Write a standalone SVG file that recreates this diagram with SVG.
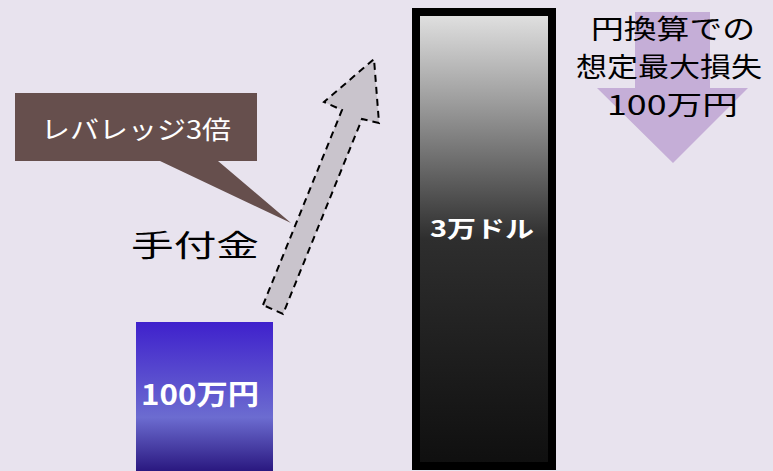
<svg xmlns="http://www.w3.org/2000/svg" width="773" height="471" viewBox="0 0 773 471">
<defs>
<linearGradient id="gBlue" x1="0" y1="0" x2="0" y2="1">
<stop offset="0" stop-color="#3f21cc"/>
<stop offset="0.64" stop-color="#6c6cd0"/>
<stop offset="1" stop-color="#2a1880"/>
</linearGradient>
<linearGradient id="gBlack" x1="0" y1="0" x2="0" y2="1">
<stop offset="0" stop-color="#e2e2e2"/>
<stop offset="0.2" stop-color="#9c9c9c"/>
<stop offset="0.5" stop-color="#2e2e2e"/>
<stop offset="1" stop-color="#0f0f0f"/>
</linearGradient>
<style>
.t{font-family:"Noto Sans CJK JP","Noto Sans",sans-serif;}
.w{fill:#ffffff;}
.b{fill:#000000;}
</style>
</defs>
<rect width="773" height="471" fill="#e8e3ee"/>
<g id="loss-arrow">
<polygon points="635,12 710,12 710,88 748,88 673,163 597,88 635,88" fill="#c5aed7"/>
<text class="t b" font-size="27" x="591" y="39" textLength="164" lengthAdjust="spacingAndGlyphs">円換算での</text>
<text class="t b" font-size="27" x="576" y="77" textLength="186" lengthAdjust="spacingAndGlyphs">想定最大損失</text>
<text class="t b" font-size="27" x="607" y="115" textLength="131" lengthAdjust="spacingAndGlyphs">100万円</text>
</g>
<g id="callout">
<polygon points="15,93 257,93 257,161 218,161 291,223 160,161 15,161" fill="#664f4d"/>
<text class="t w" font-size="25" x="41" y="139" textLength="190" lengthAdjust="spacingAndGlyphs">レバレッジ3倍</text>
</g>
<g id="connectors">
<polygon points="263,305 342,110 324,102 374,59 379,123 362,119 283,314" fill="#c9c4cc" stroke="#000" stroke-width="2" stroke-dasharray="7,5"/>
</g>
<g id="label-tetsukekin">
<text class="t b" font-size="30" x="131" y="256" textLength="128" lengthAdjust="spacingAndGlyphs">手付金</text>
</g>
<g id="deposit">
<rect x="136" y="322" width="137" height="149" fill="url(#gBlue)"/>
<text class="t w" font-size="28" font-weight="bold" x="141" y="405" textLength="118" lengthAdjust="spacingAndGlyphs">100万円</text>
</g>
<g id="position">
<rect x="416" y="12" width="136" height="454" fill="url(#gBlack)" stroke="#000" stroke-width="8"/>
<text class="t w" font-size="23" font-weight="bold" x="430" y="237" textLength="104" lengthAdjust="spacingAndGlyphs">3万ドル</text>
</g>
</svg>
